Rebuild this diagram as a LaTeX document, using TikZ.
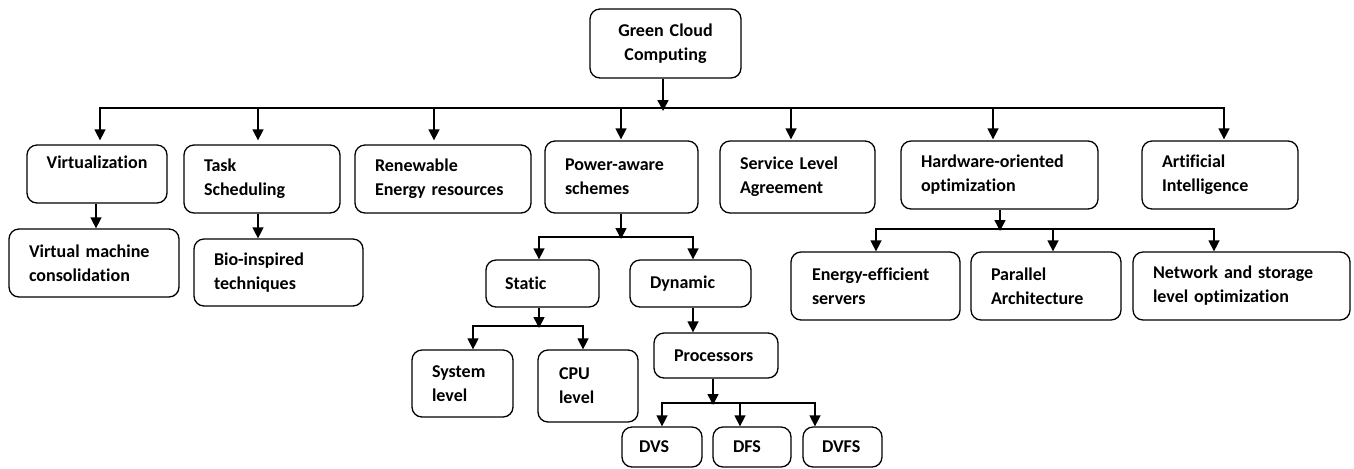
\documentclass[tikz,border=0pt]{standalone}
\usepackage{fontspec}
\setmainfont{Carlito}[Ligatures={NoCommon}]
\usetikzlibrary{arrows.meta}
\begin{document}
\begin{tikzpicture}[x=0.5pt,y=-0.5pt,
  box/.style={draw, rounded corners=5pt, line width=0.65pt, inner xsep=0pt, inner ysep=0pt,
    font=\fontsize{9}{12}\selectfont\bfseries, align=left},
  arr/.style={-{Triangle[width=5.5pt,length=5.5pt]}, line width=0.75pt},
  busline/.style={line width=0.75pt, line cap=rect}]
\useasboundingbox (0,0) rectangle (1354,468);
% boxes
\node[box, align=center, minimum width=75.5pt, minimum height=34.5pt, text width=65pt] (root) at (665.5,43.5) {Green Cloud\\Computing};
\node[box, align=center, minimum width=70pt, minimum height=29pt, text width=60pt] (vir) at (97,174) {Virtualization\\\mbox{}};
\node[box, minimum width=78pt, minimum height=34pt, text width=58pt] (task) at (262,179) {Task\\Scheduling};
\node[box, minimum width=88pt, minimum height=34pt, text width=68pt] (ren) at (443,179) {Renewable\\Energy resources};
\node[box, minimum width=76.5pt, minimum height=36pt, text width=56.5pt] (pow) at (621.5,177) {Power-aware\\schemes};
\node[box, minimum width=77.5pt, minimum height=36pt, text width=57.5pt] (sla) at (797.5,177) {Service Level\\Agreement};
\node[box, minimum width=98.5pt, minimum height=34pt, text width=78.5pt] (hw) at (999.5,175) {Hardware-oriented\\optimization};
\node[box, minimum width=78pt, minimum height=34pt, text width=58pt] (ai) at (1220,175) {Artificial\\Intelligence};
\node[box, minimum width=85pt, minimum height=34pt, text width=65pt] (vmc) at (94,263) {Virtual machine\\consolidation};
\node[box, minimum width=84.5pt, minimum height=33.5pt, text width=64.5pt] (bio) at (278.5,272.5) {Bio-inspired\\techniques};
\node[box, minimum width=56.5pt, minimum height=23.5pt, text width=37.5pt] (stat) at (542.5,283.5) {Static};
\node[box, minimum width=60.5pt, minimum height=23.5pt, text width=40.5pt] (dyn) at (690.5,283.5) {Dynamic};
\node[box, minimum width=50.5pt, minimum height=33.5pt, text width=30.5pt] (sys) at (462.5,383.5) {System\\level};
\node[box, minimum width=50pt, minimum height=36pt, text width=29pt] (cpu) at (588,386) {CPU\\level};
\node[box, minimum width=62pt, minimum height=22.5pt, text width=42pt] (proc) at (716,355.5) {Processors};
\node[box, minimum width=40pt, minimum height=20pt, text width=23pt] (dvs) at (662,447) {DVS};
\node[box, minimum width=39pt, minimum height=20pt, text width=19pt] (dfs) at (752,447) {DFS};
\node[box, minimum width=39.5pt, minimum height=20pt, text width=20.5pt] (dvfs) at (842.5,447) {DVFS};
\node[box, minimum width=84.5pt, minimum height=34pt, text width=63.5pt] (ees) at (875.5,286) {Energy-efficient\\servers};
\node[box, minimum width=75pt, minimum height=34pt, text width=55pt] (par) at (1046,286) {Parallel\\Architecture};
\node[box, minimum width=108.5pt, minimum height=34pt, text width=88.5pt] (net) at (1241.5,286) {Network and storage\\level optimization};
% bus levels
\coordinate (bus1) at (0,108);
\coordinate (bus2) at (0,237);
\coordinate (bus3) at (0,326);
\coordinate (bus4) at (0,403);
\coordinate (bus5) at (0,229);
% root
\draw[arr] ([xshift=-1.25pt]root.south) -- ([xshift=-1.25pt,yshift=-1.5pt]root.south |- bus1);
\draw[busline] ([xshift=1.5pt]vir.north |- bus1) -- ([xshift=2pt]ai.north |- bus1);
\draw[arr] ([xshift=1.5pt]vir.north |- bus1) -- ([xshift=1.5pt,yshift=2pt]vir.north);
\draw[arr] ([xshift=-2pt]task.north |- bus1) -- ([xshift=-2pt,yshift=2pt]task.north);
\draw[arr] ([xshift=-4.5pt]ren.north |- bus1) -- ([xshift=-4.5pt,yshift=2pt]ren.north);
\draw[arr] ([xshift=-0.25pt]pow.north |- bus1) -- ([xshift=-0.25pt,yshift=0.5pt]pow.north);
\draw[arr] ([xshift=-3.25pt]sla.north |- bus1) -- ([xshift=-3.25pt,yshift=0.5pt]sla.north);
\draw[arr] ([xshift=-3.25pt]hw.north |- bus1) -- ([xshift=-3.25pt,yshift=0.5pt]hw.north);
\draw[arr] ([xshift=2pt]ai.north |- bus1) -- ([xshift=2pt,yshift=0.5pt]ai.north);
% left children
\draw[arr] ([xshift=-0.5pt]vir.south) -- ([xshift=-0.5pt]vir.south |- vmc.north);
\draw[arr] ([xshift=-2pt]task.south) -- ([xshift=-2pt]task.south |- bio.north);
% power-aware
\draw[arr] ([xshift=-0.25pt]pow.south) -- ([xshift=-0.25pt,yshift=-1pt]pow.south |- bus2);
\draw[busline] ([xshift=-1.75pt]stat.north |- bus2) -- ([xshift=1.25pt]dyn.north |- bus2);
\draw[arr] ([xshift=-1.75pt]stat.north |- bus2) -- ([xshift=-1.75pt]stat.north);
\draw[arr] ([xshift=1.25pt]dyn.north |- bus2) -- ([xshift=1.25pt]dyn.north);
% static
\draw[arr] ([xshift=-1.75pt]stat.south) -- ([xshift=-1.75pt,yshift=-1pt]stat.south |- bus3);
\draw[busline] ([xshift=5.25pt]sys.north |- bus3) -- ([xshift=-2.5pt]cpu.north |- bus3);
\draw[arr] ([xshift=5.25pt]sys.north |- bus3) -- ([xshift=5.25pt]sys.north);
\draw[arr] ([xshift=-2.5pt]cpu.north |- bus3) -- ([xshift=-2.5pt]cpu.north);
% dynamic
\draw[arr] ([xshift=1.25pt]dyn.south) -- ([xshift=1.25pt]dyn.south |- proc.north);
\draw[arr] ([xshift=-1.5pt]proc.south) -- ([xshift=-1.5pt,yshift=-1pt]proc.south |- bus4);
\draw[busline] (dvs.north |- bus4) -- ([xshift=-13.75pt]dvfs.north |- bus4);
\draw[arr] (dvs.north |- bus4) -- (dvs.north);
\draw[arr] ([xshift=-6pt]dfs.north |- bus4) -- ([xshift=-6pt]dfs.north);
\draw[arr] ([xshift=-13.75pt]dvfs.north |- bus4) -- ([xshift=-13.75pt]dvfs.north);
% hardware
\draw[arr] ([xshift=0.25pt]hw.south) -- ([xshift=0.25pt,yshift=-1pt]hw.south |- bus5);
\draw[busline] ([xshift=0.25pt]ees.north |- bus5) -- ([xshift=-13.75pt]net.north |- bus5);
\draw[arr] ([xshift=0.25pt]ees.north |- bus5) -- ([xshift=0.25pt]ees.north);
\draw[arr] ([xshift=3.5pt]par.north |- bus5) -- ([xshift=3.5pt]par.north);
\draw[arr] ([xshift=-13.75pt]net.north |- bus5) -- ([xshift=-13.75pt]net.north);
\end{tikzpicture}
\end{document}
